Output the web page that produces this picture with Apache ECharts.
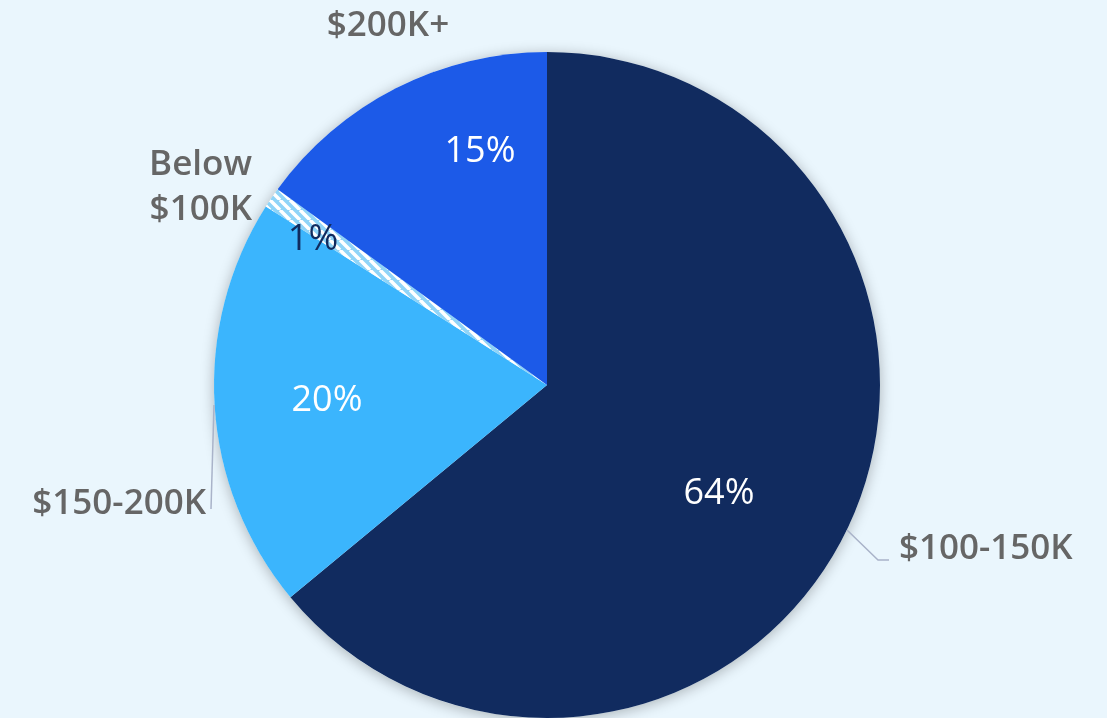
<!DOCTYPE html>
<html>
<head>
<meta charset="utf-8">
<script src="https://cdn.jsdelivr.net/npm/echarts@6/dist/echarts.min.js"></script>
<style>
html,body{margin:0;padding:0;background:#eaf6fd;}
#c{width:1107px;height:718px;}
</style>
</head>
<body>
<div id="c"></div>
<script>
// Data (clockwise from 12 o'clock)
const categories = ['$100-150K', '$150-200K', 'Below\n$100K', '$200K+'];
const values = [64, 20, 1, 15];
const percentLabels = ['64%', '20%', '1%', '15%'];

// Styling
const sliceColors = ['#112b5f', '#3bb5fd', null, '#1c5ae8'];
const pctColors = ['#ffffff', '#ffffff', '#112b5f', '#ffffff'];
const FONT = '"Open Sans", "DejaVu Sans", sans-serif';
const CX = 547, CY = 385, R = 333;

// Striped pattern for tiny slice
const pat = document.createElement('canvas');
pat.width = 10; pat.height = 10;
const pc = pat.getContext('2d');
pc.fillStyle = '#8fd4f8';
pc.fillRect(0, 0, 10, 10);
pc.strokeStyle = '#ffffff';
pc.lineWidth = 3.5;
pc.beginPath();
for (let k = -10; k <= 20; k += 10) { pc.moveTo(k, 0); pc.lineTo(k + 10, 10); }
pc.stroke();

const innerPos = [[719, 494], [327, 401], [313, 240], [480, 152]];
const outerPos = [
  {x: 388, y: 26, align: 'center'},
  {x: 252, y: 188, align: 'right'},
  {x: 206, y: 504, align: 'right'},
  {x: 899, y: 549, align: 'left'}
];
// map outer by data index
const outerByIdx = [outerPos[3], outerPos[2], outerPos[1], outerPos[0]];
const linePts = [
  [[847, 530], [878, 560], [889, 560]],
  [[214, 405], [211, 509], [211, 509]],
  null,
  null
];

const chart = echarts.init(document.getElementById('c'));
const dataMain = values.map((v, i) => ({
  value: v,
  name: categories[i],
  itemStyle: {color: sliceColors[i] || {image: pat, repeat: 'repeat'}},
  label: {color: pctColors[i]}
}));
const dataOuter = values.map((v, i) => ({
  value: v,
  name: categories[i],
  labelLine: {show: !!linePts[i]}
}));

chart.setOption({
  backgroundColor: '#eaf6fd',
  animation: false,
  series: [
    {
      type: 'pie', silent: true, center: [CX, CY], radius: R,
      data: [{value: 1, itemStyle: {color: '#eaf6fd', shadowBlur: 14, shadowColor: 'rgba(0,0,0,0.28)', shadowOffsetX: 0, shadowOffsetY: 2}}],
      label: {show: false}, labelLine: {show: false}, z: 1
    },
    {
      type: 'pie', center: [CX, CY], radius: R, startAngle: 90, clockwise: true,
      data: dataMain, z: 2,
      itemStyle: {borderWidth: 0},
      label: {
        show: true, position: 'inside',
        formatter: p => percentLabels[p.dataIndex],
        fontFamily: FONT, fontSize: 36, fontWeight: 400
      },
      labelLayout: p => ({x: innerPos[p.dataIndex][0], y: innerPos[p.dataIndex][1], align: 'center', verticalAlign: 'middle'})
    },
    {
      type: 'pie', center: [CX, CY], radius: R, startAngle: 90, clockwise: true,
      data: dataOuter, z: 3, silent: true,
      itemStyle: {color: 'rgba(0,0,0,0)', borderWidth: 0},
      label: {
        show: true, position: 'outside', formatter: '{b}', overflow: 'none',
        color: '#666666', fontFamily: FONT, fontSize: 35, fontWeight: 600, lineHeight: 45
      },
      labelLine: {lineStyle: {color: '#a9b3c9', width: 1.5}},
      labelLayout: p => {
        const o = outerByIdx[p.dataIndex];
        const r = {x: o.x, y: o.y, align: o.align, verticalAlign: 'middle'};
        if (linePts[p.dataIndex]) r.labelLinePoints = linePts[p.dataIndex];
        return r;
      }
    }
  ]
});
</script>
</body>
</html>
